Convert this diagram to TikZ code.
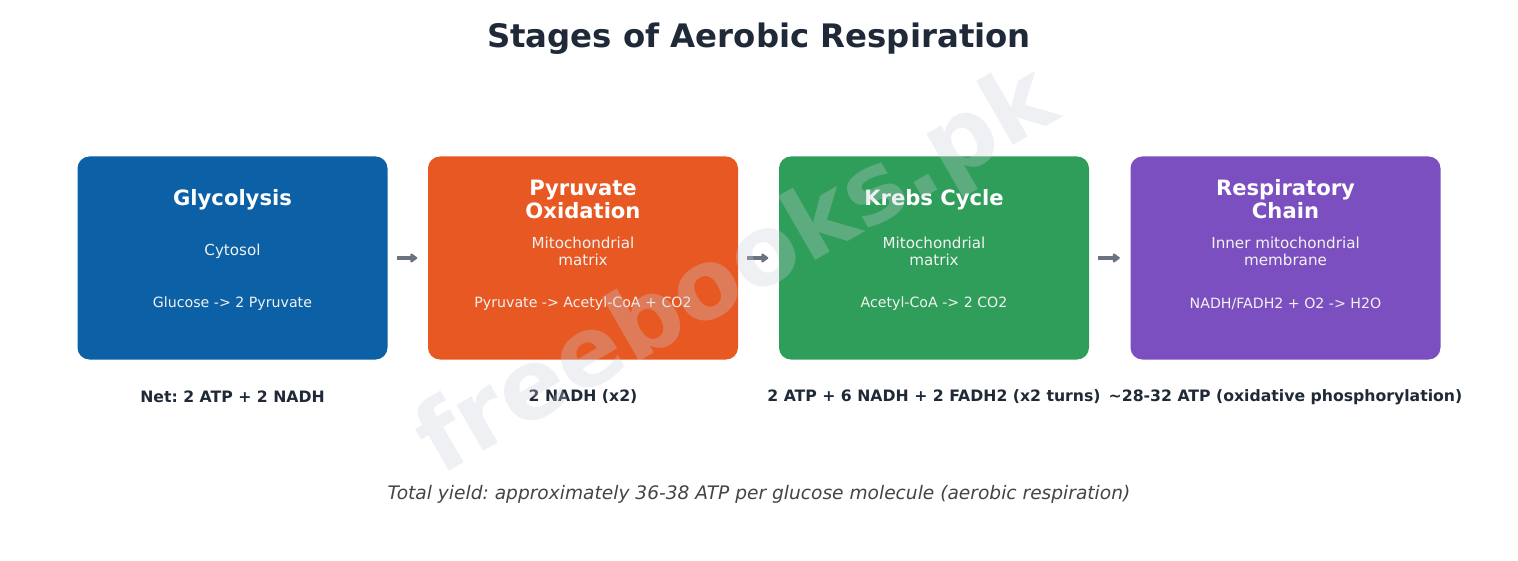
\documentclass[tikz,border=0pt]{standalone}
\usepackage{fontspec}
\setmainfont{DejaVu Sans}
\usetikzlibrary{arrows.meta}
\definecolor{glyblue}{HTML}{0B60A6}
\definecolor{pyrorange}{HTML}{E85822}
\definecolor{krebsgreen}{HTML}{2E9E5A}
\definecolor{chainpurple}{HTML}{7B4FBF}
\definecolor{arrowgray}{HTML}{6B7280}
\definecolor{inkdark}{HTML}{1F2937}
\definecolor{footgray}{HTML}{444444}
\definecolor{markgray}{HTML}{C8CDD7}
\frenchspacing
\begin{document}
\begin{tikzpicture}[x=0.72pt, y=-0.72pt,
    stage/.style={rounded corners=8.6pt, minimum width=223.2pt, minimum height=146.2pt, inner sep=0pt},
    stagetitle/.style={text=white, align=center, font=\fontsize{15.2}{16.6}\selectfont\bfseries},
    stageplace/.style={text=white!95!black, align=center, font=\fontsize{10.9}{12.2}\selectfont},
    stageeq/.style={text=white!95!black, font=\fontsize{10.2}{12}\selectfont},
    yield/.style={text=inkdark, font=\fontsize{11.3}{13}\selectfont\bfseries},
    flow/.style={arrowgray, line width=2.9pt, -{Triangle[length=5.5pt, width=7.5pt, round]}, shorten <=6.5pt, shorten >=7.5pt}]
    \useasboundingbox (0,0) rectangle (1518,561);

    \node[text=inkdark, font=\fontsize{23.3}{28}\selectfont\bfseries] (title) at (759,39) {Stages of Aerobic Respiration};

    % the four stages
    \node[stage, fill=glyblue] (gly) at (232.5,258) {};
    \node[stage, fill=pyrorange] (pyr) at (583,258) {};
    \node[stage, fill=krebsgreen] (krebs) at (934,258) {};
    \node[stage, fill=chainpurple] (chain) at (1285.5,258) {};

    \node[stagetitle] (glyname) at (232.5,200) {Glycolysis};
    \node[stageplace] (glyplace) at (232.5,251) {Cytosol};
    \node[stageeq] (glyeq) at (232.5,304) {Glucose -> 2 Pyruvate};

    \node[stagetitle] (pyrname) at (583,199) {Pyruvate\\Oxidation};
    \node[stageplace] (pyrplace) at (583,251.5) {Mitochondrial\\matrix};
    \node[stageeq] (pyreq) at (583,304) {Pyruvate -> Acetyl-CoA + CO2};

    \node[stagetitle] (krebsname) at (934,200) {Krebs Cycle};
    \node[stageplace] (krebsplace) at (934,251.5) {Mitochondrial\\matrix};
    \node[stageeq] (krebseq) at (934,304) {Acetyl-CoA -> 2 CO2};

    \node[stagetitle] (chainname) at (1285.5,199) {Respiratory\\Chain};
    \node[stageplace] (chainplace) at (1285.5,251.5) {Inner mitochondrial\\membrane};
    \node[stageeq] (chaineq) at (1285.5,304) {NADH/FADH2 + O2 -> H2O};

    \draw[flow] (gly) -- (pyr);
    \draw[flow] (pyr) -- (krebs);
    \draw[flow] (krebs) -- (chain);

    % yields under each stage
    \node[yield] (glyyield) at (232.5,397) {Net: 2 ATP + 2 NADH};
    \node[yield] (pyryield) at (583,397) {2 NADH (x2)};
    \node[yield] (krebsyield) at (934,397) {2 ATP + 6 NADH + 2 FADH2 (x2 turns)};
    \node[yield] (chainyield) at (1285.5,397) {\textasciitilde28-32 ATP (oxidative phosphorylation)};

    \node[text=footgray, font=\fontsize{13.4}{15}\selectfont\itshape] (total) at (759,494) {Total yield: approximately 36-38 ATP per glucose molecule (aerobic respiration)};

    % watermark
    \node[text=markgray, opacity=0.3, rotate=30, font=\fontsize{70}{72}\selectfont\bfseries] (mark) at (738,274) {freebooks.pk};
\end{tikzpicture}
\end{document}
